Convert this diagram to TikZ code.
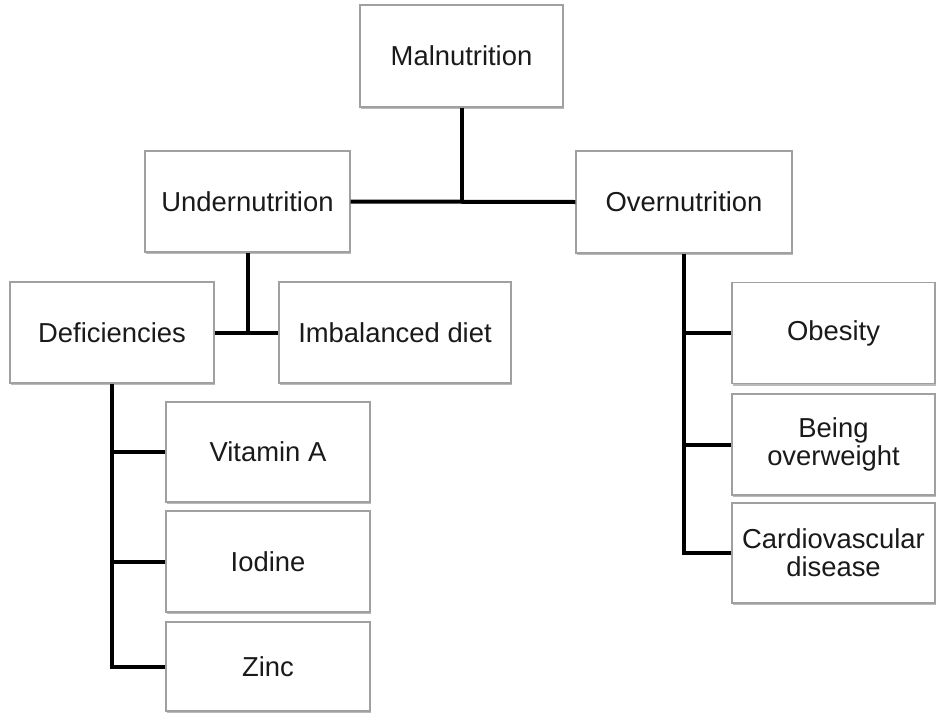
\documentclass[tikz,border=0pt]{standalone}
\usepackage{fontspec}
\setmainfont{Liberation Sans}
\usetikzlibrary{shadows}
\definecolor{boxline}{HTML}{A0A0A0}
\definecolor{txt}{HTML}{1A1A1A}
\tikzset{
  box/.style={draw=boxline, line width=1.4pt, fill=white, rectangle,
    inner sep=0pt, align=center, text=txt,
    font=\fontsize{27.4}{28}\selectfont,
    drop shadow={shadow xshift=1.2pt, shadow yshift=-2pt, fill=black!45, opacity=0.6}},
  conn/.style={line width=4pt, draw=black}
}
\begin{document}
\begin{tikzpicture}[x=1pt,y=-1pt]
\useasboundingbox (0,0) rectangle (936,712);
\fill[white] (0,0) rectangle (936,712);
% nodes
\node[box, minimum width=203pt, minimum height=102pt] (mal) at (461.5,56) {Malnutrition};
\node[box, minimum width=205pt, minimum height=101pt] (under) at (247.5,201.5) {Undernutrition};
\node[box, minimum width=216pt, minimum height=102pt] (over) at (684,202) {Overnutrition};
\node[box, minimum width=204pt, minimum height=101pt] (def) at (112,332.5) {Deficiencies};
\node[box, minimum width=232pt, minimum height=101pt] (imb) at (395,332.5) {Imbalanced diet};
\node[box, minimum width=204pt, minimum height=100pt] (vita) at (268,452) {Vitamin A};
\node[box, minimum width=204pt, minimum height=101pt] (iod) at (268,561.5) {Iodine};
\node[box, minimum width=204pt, minimum height=89pt] (zinc) at (268,666.5) {Zinc};
\node[box, minimum width=203pt, minimum height=101pt] (obe) at (833.5,333) {Obesity};
\node[box, minimum width=203pt, minimum height=101pt] (being) at (833.5,444.5) {Being\\overweight};
\node[box, minimum width=203pt, minimum height=100pt] (cardio) at (833.5,553) {Cardiovascular\\disease};
% connectors
\coordinate (j1) at (mal.south |- under.east);
\draw[conn] (under.east) -- (over.west);
\draw[conn] (mal.south) -- (j1);
\coordinate (j2) at (under.south |- def.east);
\draw[conn] (def.east) -- (imb.west);
\draw[conn] (under.south) -- (j2);
% deficiencies branch
\coordinate (dz) at (def.south |- zinc.west);
\draw[conn] (def.south) -- (dz) -- (zinc.west);
\draw[conn] (def.south |- vita.west) -- (vita.west);
\draw[conn] (def.south |- iod.west) -- (iod.west);
% overnutrition branch
\coordinate (oc) at (over.south |- cardio.west);
\draw[conn] (over.south) -- (oc) -- (cardio.west);
\draw[conn] (over.south |- obe.west) -- (obe.west);
\draw[conn] (over.south |- being.west) -- (being.west);
\end{tikzpicture}
\end{document}
